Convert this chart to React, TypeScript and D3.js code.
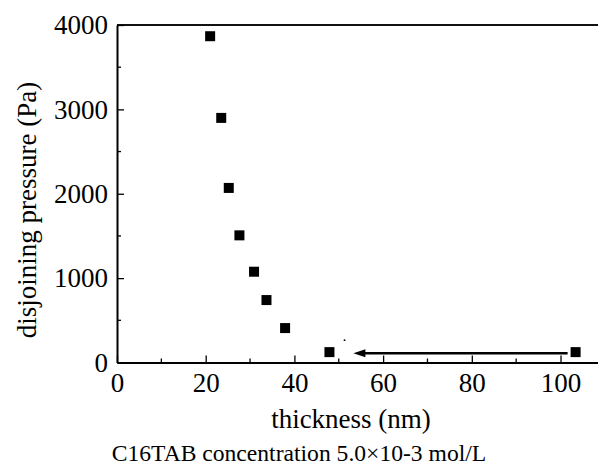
import { useEffect, useRef } from 'react';
import * as d3 from 'd3';

const WIDTH = 598;
const HEIGHT = 467;
const PLOT = { left: 117, right: 598, top: 25, bottom: 362.5 };

// thickness (nm) vs disjoining pressure (Pa)
const thickness = [21.0, 23.5, 25.2, 27.6, 30.9, 33.7, 37.9, 47.9, 103.4];
const pressure = [3867, 2899, 2069, 1507, 1076, 740, 408, 123, 123];

const xTicks = [0, 20, 40, 60, 80, 100];
const xMinor = [10, 30, 50, 70, 90];
const yTicks = [0, 1000, 2000, 3000, 4000];
const yMinor = [500, 1500, 2500, 3500];

// arrow from the last point back toward the jump
const arrowFrom = { x: 101.6, y: 110 };
const arrowTo = { x: 53.3, y: 110 };
const strayDot = { x: 51.3, y: 265 };

const FONT = 'Liberation Serif';

export default function App() {
  const svgRef = useRef<SVGSVGElement>(null);

  useEffect(() => {
    const svg = d3.select(svgRef.current);
    svg.selectAll('*').remove();

    const x = d3.scaleLinear().domain([0, 108.45]).range([PLOT.left, PLOT.right]);
    const y = d3.scaleLinear().domain([0, 4000]).range([PLOT.bottom, PLOT.top]);
    const fmt = d3.format('d');

    const g = svg.append('g');

    // top frame line
    g.append('line')
      .attr('x1', PLOT.left).attr('x2', PLOT.right)
      .attr('y1', PLOT.top).attr('y2', PLOT.top)
      .attr('stroke', '#111').attr('stroke-width', 2);

    // x axis
    const xAxis = g.append('g').attr('transform', `translate(0,${PLOT.bottom})`);
    xAxis.call(d3.axisBottom(x).tickValues(xTicks).tickFormat(fmt as any).tickSize(-7).tickSizeOuter(0).tickPadding(10) as any);
    xAxis.append('g').selectAll('line').data(xMinor).join('line')
      .attr('x1', (d) => x(d)).attr('x2', (d) => x(d))
      .attr('y1', 0).attr('y2', -4)
      .attr('stroke', '#000').attr('stroke-width', 1.3);

    // y axis
    const yAxis = g.append('g').attr('transform', `translate(${PLOT.left},0)`);
    yAxis.call(d3.axisLeft(y).tickValues(yTicks).tickFormat(fmt as any).tickSize(-7).tickSizeOuter(0).tickPadding(9) as any);
    yAxis.append('g').selectAll('line').data(yMinor).join('line')
      .attr('x1', 0).attr('x2', 4)
      .attr('y1', (d) => y(d)).attr('y2', (d) => y(d))
      .attr('stroke', '#000').attr('stroke-width', 1.3);

    svg.selectAll('.domain').attr('stroke', '#000').attr('stroke-width', 2);
    svg.selectAll('.tick line').attr('stroke', '#000').attr('stroke-width', 1.3);
    xAxis.attr('font-family', FONT).attr('font-size', 27);
    yAxis.attr('font-family', FONT).attr('font-size', 27);
    svg.selectAll('.tick text').attr('fill', '#000');

    // arrow
    g.append('line')
      .attr('x1', x(arrowFrom.x)).attr('y1', y(arrowFrom.y))
      .attr('x2', x(arrowTo.x) + 8).attr('y2', y(arrowTo.y))
      .attr('stroke', '#000').attr('stroke-width', 2.5);
    g.append('path')
      .attr('d', `M${x(arrowTo.x)},${y(arrowTo.y)} l12,-4 l0,8 Z`)
      .attr('fill', '#000');

    g.append('circle')
      .attr('cx', x(strayDot.x)).attr('cy', y(strayDot.y))
      .attr('r', 0.9).attr('fill', '#000');

    // points
    const pts = thickness.map((t, i) => ({ t, p: pressure[i] }));
    const S = 10;
    g.append('g').selectAll('rect').data(pts).join('rect')
      .attr('x', (d) => x(d.t) - S / 2)
      .attr('y', (d) => y(d.p) - S / 2)
      .attr('width', S).attr('height', S)
      .attr('fill', '#000');

    // titles
    svg.append('text')
      .attr('x', 351).attr('y', 428)
      .attr('text-anchor', 'middle')
      .attr('font-family', FONT).attr('font-size', 27)
      .text('thickness (nm)');

    svg.append('text')
      .attr('transform', 'translate(36,210) rotate(-90)')
      .attr('text-anchor', 'middle')
      .attr('font-family', FONT).attr('font-size', 27)
      .text('disjoining pressure (Pa)');

    svg.append('text')
      .attr('x', 299).attr('y', 461)
      .attr('text-anchor', 'middle')
      .attr('font-family', FONT).attr('font-size', 23.6)
      .text('C16TAB concentration 5.0×10-3 mol/L');
  }, []);

  return (
    <svg
      ref={svgRef}
      width={WIDTH}
      height={HEIGHT}
      viewBox={`0 0 ${WIDTH} ${HEIGHT}`}
      style={{ position: 'absolute', left: 0, top: 0, background: '#fff' }}
    />
  );
}
